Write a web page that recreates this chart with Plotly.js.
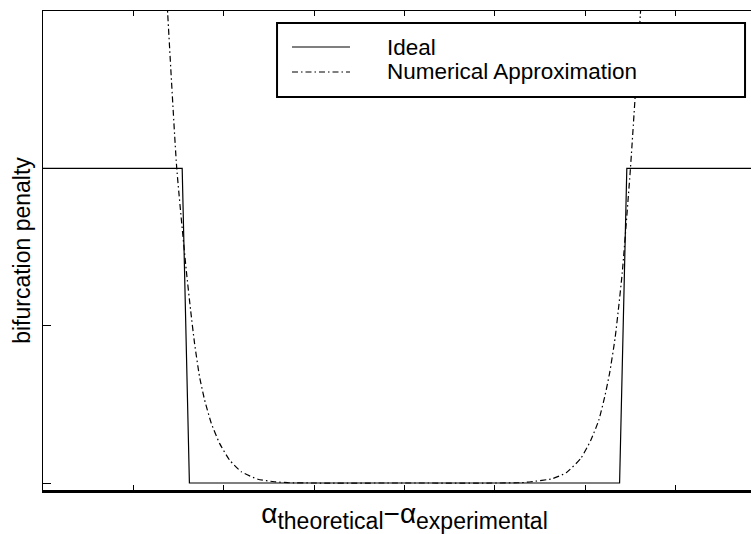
<!DOCTYPE html>
<html>
<head>
<meta charset="utf-8">
<script src="https://cdn.plot.ly/plotly-3.0.1.min.js"></script>
<style>
html,body{margin:0;padding:0;overflow:hidden;background:#fff;width:751px;height:534px;}
#chart{width:766px;height:534px;}
</style>
</head>
<body>
<div id="chart"></div>
<script>
// Ideal penalty (step function with steep edges)
var idealX = [-4, -2.46, -2.38, 2.38, 2.46, 4];
var idealY = [1, 1, 0, 0, 1, 1];

// Numerical approximation
var approxX = [-2.66, -2.62, -2.52, -2.415, -2.367, -2.323, -2.268, -2.212, -2.138, -2.046, -1.936, -1.806, -1.622, -1.438, -1.29, -1.0,
               0, 1.0, 1.29, 1.40, 1.64, 1.79, 1.95, 2.06, 2.15, 2.22, 2.27, 2.33, 2.37, 2.41, 2.50, 2.61, 2.65];
var approxY = [1.70, 1.49, 1.00, 0.677, 0.55, 0.444, 0.338, 0.264, 0.19, 0.126, 0.073, 0.036, 0.012, 0.004, 0.001, 0.0,
               0, 0.0, 0.001, 0.004, 0.014, 0.033, 0.078, 0.135, 0.20, 0.28, 0.35, 0.46, 0.56, 0.67, 1.00, 1.49, 1.70];

var seriesNames = ['Ideal', 'Numerical Approximation'];
var xTicks = [-4, -3, -2, -1, 0, 1, 2, 3, 4];
var yTicks = [0, 0.5, 1];

var dashDot = '6px,3px,1.5px,3px';

var traces = [
  {x: idealX, y: idealY, type: 'scatter', mode: 'lines', name: seriesNames[0],
   xaxis: 'x2', yaxis: 'y', showlegend: false,
   line: {color: '#000', width: 1.2}},
  {x: approxX, y: approxY, type: 'scatter', mode: 'lines', name: seriesNames[1], showlegend: false,
   line: {color: '#000', width: 1.2, dash: dashDot, shape: 'spline', smoothing: 0.5}}
];

// legend drawn as a boxed key (paper coordinates)
var legFont = {size: 22.5, color: '#000', family: '"Liberation Sans", Arial, Helvetica, sans-serif'};
var shapes = [
  {type: 'rect', xref: 'paper', yref: 'paper', x0: 0.3237, x1: 0.9710, y0: 0.8205, y1: 0.9749,
   line: {color: '#000', width: 2}, fillcolor: '#fff', layer: 'above'},
  {type: 'line', xref: 'paper', yref: 'paper', x0: 0.3444, x1: 0.4246, y0: 0.9248, y1: 0.9248,
   line: {color: '#000', width: 1.2}, layer: 'above'},
  {type: 'line', xref: 'paper', yref: 'paper', x0: 0.3444, x1: 0.4246, y0: 0.8727, y1: 0.8727,
   line: {color: '#000', width: 1.2, dash: dashDot}, layer: 'above'}
];
var annotations = [
  {xref: 'paper', yref: 'paper', x: 0.4744, y: 0.9248, xanchor: 'left', yanchor: 'middle',
   text: seriesNames[0], showarrow: false, font: legFont, borderpad: 0},
  {xref: 'paper', yref: 'paper', x: 0.4744, y: 0.8727, xanchor: 'left', yanchor: 'middle',
   text: seriesNames[1], showarrow: false, font: legFont, borderpad: 0}
];

var layout = {
  width: 766, height: 534,
  margin: {l: 43, r: 0, t: 11, b: 44},
  paper_bgcolor: '#fff', plot_bgcolor: '#fff',
  font: {family: '"Liberation Sans", Arial, Helvetica, sans-serif', color: '#000'},
  showlegend: false,
  shapes: shapes,
  annotations: annotations,
  xaxis: {
    range: [-4, 4], tickvals: xTicks, showticklabels: false,
    ticks: 'inside', ticklen: 5, tickwidth: 1, tickcolor: '#000',
    showline: true, linewidth: 2.5, linecolor: '#000',
    showgrid: false, zeroline: false,
    title: {text: 'α<sub><span style="font-size:23px">theoretical</span></sub>−α<sub><span style="font-size:23px">experimental</span></sub>',
            font: {size: 28, color: '#000'}, standoff: 12}
  },
  xaxis2: {
    overlaying: 'x', side: 'top', range: [-4, 4], tickvals: xTicks, showticklabels: false,
    ticks: 'inside', ticklen: 5, tickwidth: 1, tickcolor: '#000',
    showline: true, linewidth: 1.5, linecolor: '#000',
    showgrid: false, zeroline: false
  },
  yaxis: {
    range: [-0.0222, 1.5], tickvals: yTicks, showticklabels: false,
    ticks: 'inside', ticklen: 8, tickwidth: 1, tickcolor: '#000',
    showline: true, linewidth: 1.5, linecolor: '#000',
    showgrid: false, zeroline: false,
    title: {text: 'bifurcation penalty', font: {size: 23, color: '#000'}, standoff: 4}
  }
};

Plotly.newPlot('chart', traces, layout, {displayModeBar: false, staticPlot: true});
</script>
</body>
</html>
